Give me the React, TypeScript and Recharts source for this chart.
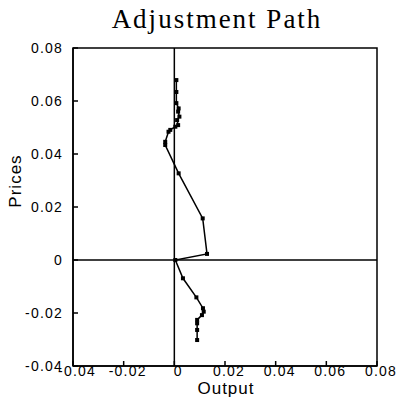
import React from 'react';
import {
  ScatterChart,
  Scatter,
  XAxis,
  YAxis,
  ReferenceLine,
  ReferenceArea,
} from 'recharts';

// path, from the top of the plot down to the bottom
const outputs = [
  0.0008, 0.0008, 0.0008, 0.0017, 0.0015, 0.002, 0.0011, 0.0015, 0.0004, -0.0016,
  -0.0023, -0.0036, -0.0036, 0.0017, 0.0112, 0.0129, 0.0004, 0.0034, 0.0087, 0.0113,
  0.0116, 0.0109, 0.009, 0.009, 0.009, 0.009,
];
const prices = [
  0.0679, 0.0634, 0.0592, 0.0572, 0.056, 0.0541, 0.0528, 0.0509, 0.0503, 0.0491,
  0.0484, 0.0446, 0.0434, 0.0327, 0.0157, 0.0023, 0.0, -0.0069, -0.0141, -0.0182,
  -0.0195, -0.0208, -0.0226, -0.0239, -0.0264, -0.0302,
];
const xTicks = [-0.04, -0.02, 0, 0.02, 0.04, 0.06, 0.08];
const yTicks = [-0.04, -0.02, 0, 0.02, 0.04, 0.06, 0.08];

const data = outputs.map((x, i) => ({ x, y: prices[i] }));

const fmt = (v: number) => (v === 0 ? '0' : v.toFixed(2));

const tickStyle = {
  fill: '#000',
  fontSize: 14,
  fontFamily: 'Liberation Sans, Arial, sans-serif',
  letterSpacing: 1.2,
};

const Marker = (props: any) => {
  const { cx, cy } = props;
  if (cx == null || cy == null) return null;
  return <rect x={cx - 2} y={cy - 2} width={4} height={4} fill="#000" />;
};

export default function App() {
  return (
    <div
      style={{
        position: 'absolute',
        left: 0,
        top: 0,
        width: 401,
        height: 404,
        background: '#fff',
      }}
    >
      <div
        style={{
          position: 'absolute',
          left: 0,
          width: 434,
          top: 4,
          textAlign: 'center',
          fontFamily: 'Liberation Serif, serif',
          fontSize: 27,
          letterSpacing: 2,
          color: '#000',
        }}
      >
        Adjustment Path
      </div>
      <div
        style={{
          position: 'absolute',
          left: 176,
          width: 100,
          top: 380,
          lineHeight: '17px',
          textAlign: 'center',
          fontFamily: 'Liberation Sans, Arial, sans-serif',
          fontSize: 17,
          letterSpacing: 1,
          color: '#000',
        }}
      >
        Output
      </div>
      <div
        style={{
          position: 'absolute',
          left: -34,
          width: 100,
          top: 171,
          textAlign: 'center',
          transform: 'rotate(-90deg)',
          fontFamily: 'Liberation Sans, Arial, sans-serif',
          fontSize: 17,
          letterSpacing: 1,
          color: '#000',
        }}
      >
        Prices
      </div>
      <ScatterChart
        width={401}
        height={404}
        margin={{ top: 48, right: 24, bottom: 0, left: 13 }}
        style={{ position: 'absolute', left: 0, top: 0 }}
      >
        <XAxis
          type="number"
          dataKey="x"
          domain={[-0.04, 0.08]}
          ticks={xTicks}
          tickFormatter={fmt}
          height={38}
          tickSize={-5}
          tickMargin={5}
          stroke="#000"
          strokeWidth={1.5}
          tick={{ ...tickStyle, dx: 4 }}
          interval={0}
        />
        <YAxis
          type="number"
          dataKey="y"
          domain={[-0.04, 0.08]}
          ticks={yTicks}
          tickFormatter={fmt}
          width={60}
          tickSize={-5}
          tickMargin={15}
          stroke="#000"
          strokeWidth={1.5}
          tick={tickStyle}
          interval={0}
        />
        <ReferenceArea
          x1={-0.04}
          x2={0.08}
          y1={-0.04}
          y2={0.08}
          fill="none"
          fillOpacity={0}
          stroke="#000"
          strokeWidth={1.5}
        />
        <ReferenceLine x={0} stroke="#000" strokeWidth={1.5} />
        <ReferenceLine y={0} stroke="#000" strokeWidth={1.5} />
        <Scatter
          data={data}
          line={{ stroke: '#000', strokeWidth: 1.5 }}
          lineType="joint"
          shape={Marker}
          isAnimationActive={false}
        />
      </ScatterChart>
    </div>
  );
}
